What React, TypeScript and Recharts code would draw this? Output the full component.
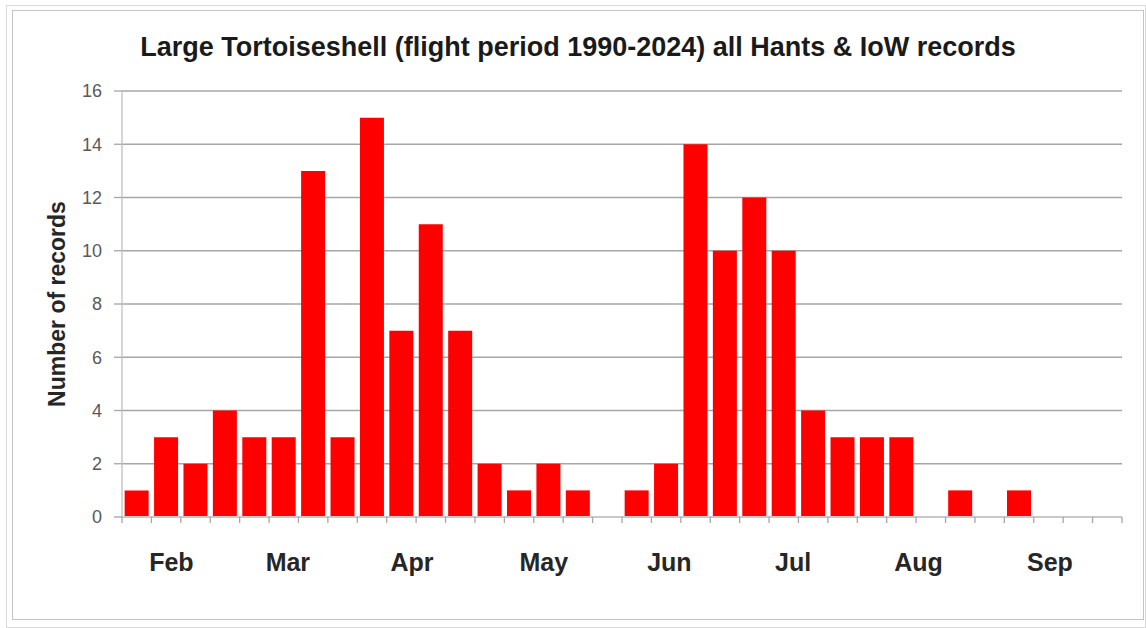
import React from "react"
import { BarChart, Bar, XAxis, YAxis, CartesianGrid } from "recharts"

// weekly counts, late Jan to late Sep
const weeks = [
    "w1", "w2", "w3", "w4", "w5", "w6", "w7", "w8", "w9", "w10", "w11", "w12",
    "w13", "w14", "w15", "w16", "w17", "w18", "w19", "w20", "w21", "w22", "w23", "w24",
    "w25", "w26", "w27", "w28", "w29", "w30", "w31", "w32", "w33", "w34"
]
const records = [
    1, 3, 2, 4, 3, 3, 13, 3, 15, 7, 11, 7,
    2, 1, 2, 1, 0, 1, 2, 14, 10, 12, 10, 4,
    3, 3, 3, 0, 1, 0, 1, 0, 0, 0
]
const yTicks = [0, 2, 4, 6, 8, 10, 12, 14, 16]
const monthNames = ["Feb", "Mar", "Apr", "May", "Jun", "Jul", "Aug", "Sep"]
// where each month label sits, in weeks from the start of the axis
const monthAt = [1.68, 5.64, 9.86, 14.34, 18.61, 22.82, 27.08, 31.55]

const data = weeks.map((week, i) => ({ week, value: records[i] }))

const TITLE_FONT = "'Liberation Sans', Arial, sans-serif"
const GRID = '#a6a6a6'

const YTitle = (props: any) => {
    const { viewBox } = props
    const cx = 57
    const cy = viewBox.y + viewBox.height / 2
    return (
        <text
            x={cx}
            y={cy}
            transform={`rotate(-90 ${cx} ${cy})`}
            textAnchor="middle"
            dominantBaseline="central"
            style={{ fontFamily: TITLE_FONT, fontWeight: 700, fontSize: 23, fill: '#262626' }}
        >
            Number of records
        </text>
    )
}

// week boundary tick marks plus the month names that fall inside each week
const WeekTick = (props: any) => {
    const { x, y, payload } = props
    const i = payload.index
    const band = payload.offset * 2
    const left = x - payload.offset
    const names = monthAt
        .map((m, k) => ({ m, k }))
        .filter(({ m }) => m >= i && m < i + 1)
    return (
        <g>
            <line x1={left} x2={left} y1={y} y2={y + 6} stroke={GRID} strokeWidth={1.3} />
            {i === weeks.length - 1 && (
                <line x1={left + band} x2={left + band} y1={y} y2={y + 6} stroke={GRID} strokeWidth={1.3} />
            )}
            {names.map(({ m, k }) => (
                <text
                    key={k}
                    x={left + (m - i) * band}
                    y={y + 54}
                    textAnchor="middle"
                    style={{ fontFamily: TITLE_FONT, fontWeight: 700, fontSize: 25, fill: '#262626' }}
                >
                    {monthNames[k]}
                </text>
            ))}
        </g>
    )
}

export default function App() {
    return (
        <div style={{ position: 'absolute', left: 0, top: 0, width: 1146, height: 628, background: '#fff' }}>
            <div style={{ position: 'absolute', left: 6, top: 5, width: 1140, height: 623, border: '1px solid #dadada', boxSizing: 'border-box' }} />
            <div style={{ position: 'absolute', left: 12, top: 10, width: 1132, height: 610, border: '1px solid #c4c4c4', boxSizing: 'border-box' }} />
            <div
                style={{
                    position: 'absolute',
                    left: 0,
                    top: 29,
                    width: 1156,
                    textAlign: 'center',
                    fontFamily: TITLE_FONT,
                    fontWeight: 700,
                    fontSize: 27,
                    lineHeight: '36px',
                    color: '#1a1a1a'
                }}
            >
                Large Tortoiseshell (flight period 1990-2024) all Hants &amp; IoW records
            </div>
            <div style={{ position: 'absolute', left: 0, top: 0 }}>
                <BarChart
                    width={1146}
                    height={628}
                    data={data}
                    margin={{ top: 91, right: 24, left: 62, bottom: 51 }}
                    barCategoryGap="9%"
                >
                    <CartesianGrid vertical={false} stroke={GRID} strokeWidth={1.3} />
                    <XAxis
                        dataKey="week"
                        height={60}
                        interval={0}
                        tickSize={0}
                        tickMargin={0}
                        tickLine={false}
                        axisLine={{ stroke: '#c8c8c8', strokeWidth: 2 }}
                        tick={<WeekTick />}
                    />
                    <YAxis
                        domain={[0, 16]}
                        ticks={yTicks}
                        interval={0}
                        width={60}
                        axisLine={{ stroke: '#c8c8c8', strokeWidth: 1.5 }}
                        tickLine={{ stroke: GRID, strokeWidth: 1.3 }}
                        tickSize={8}
                        tickMargin={12}
                        tick={{ fontFamily: TITLE_FONT, fontSize: 18, fill: '#595959' }}
                        label={<YTitle />}
                    />
                    <Bar dataKey="value" fill="#ff0000" isAnimationActive={false} />
                </BarChart>
            </div>
        </div>
    )
}
